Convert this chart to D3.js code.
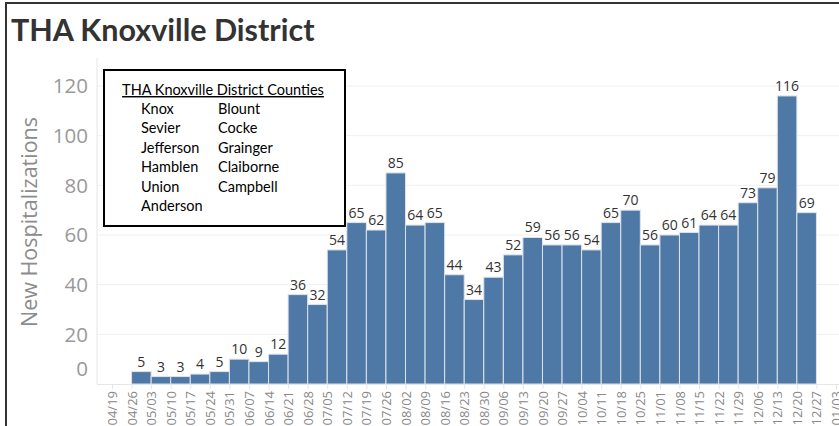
<!DOCTYPE html>
<html>
<head>
<meta charset="utf-8">
<script src="https://cdn.jsdelivr.net/npm/d3@7"></script>
<style>
  body { margin: 0; background: #fff; }
  svg { display: block; }
</style>
</head>
<body>
<svg id="chart"></svg>
<script>
// weekly new hospitalizations, week starting on the date
const weekStarts = ['04/26','05/03','05/10','05/17','05/24','05/31','06/07','06/14','06/21','06/28',
  '07/05','07/12','07/19','07/26','08/02','08/09','08/16','08/23','08/30','09/06','09/13','09/20',
  '09/27','10/04','10/11','10/18','10/25','11/01','11/08','11/15','11/22','11/29','12/06','12/13','12/20'];
const hospitalizations = [5,3,3,4,5,10,9,12,36,32,54,65,62,85,64,65,44,34,43,52,59,56,56,54,65,70,
  56,60,61,64,64,73,79,116,69];
const yTicks = [0,20,40,60,80,100,120];
const countiesLeft = ['Knox','Sevier','Jefferson','Hamblen','Union','Anderson'];
const countiesRight = ['Blount','Cocke','Grainger','Claiborne','Campbell'];

const width = 839, height = 426;
const parseDate = s => {
  const [m, d] = s.split('/').map(Number);
  return new Date(Date.UTC(m < 4 ? 2021 : 2020, m - 1, d));
};
const data = weekStarts.map((s, i) => ({start: parseDate(s), value: hospitalizations[i]}));

const svg = d3.select('#chart').attr('width', width).attr('height', height);

// outer frame
svg.append('path')
  .attr('d', `M6,${height + 5} V3 H${width + 5}`)
  .attr('fill', 'none').attr('stroke', '#333').attr('stroke-width', 2);

svg.append('text')
  .attr('x', 11).attr('y', 41)
  .attr('font-family', 'Lato, sans-serif')
  .attr('font-weight', 'bold')
  .attr('font-size', 30.5)
  .attr('fill', '#333')
  .text('THA Knoxville District');

const x = d3.scaleUtc()
  .domain([new Date(Date.UTC(2020, 3, 19)), new Date(Date.UTC(2021, 0, 3))])
  .range([112, 836]);
const y = d3.scaleLinear().domain([0, 120]).range([384, 86]);

const plotLeft = 97;

// gridlines
svg.append('g')
  .selectAll('line')
  .data(yTicks.filter(d => d > 0))
  .join('line')
  .attr('x1', plotLeft).attr('x2', width)
  .attr('y1', d => y(d)).attr('y2', d => y(d))
  .attr('stroke', '#f0f0f0');

// y axis line
svg.append('line')
  .attr('x1', plotLeft).attr('x2', plotLeft)
  .attr('y1', 58).attr('y2', y(0))
  .attr('stroke', '#e6e6e6');

// y tick labels (0 pushed up like the original)
svg.append('g')
  .selectAll('text')
  .data(yTicks)
  .join('text')
  .attr('x', 88)
  .attr('y', d => d === 0 ? y(0) - 15 : y(d))
  .attr('dy', '0.36em')
  .attr('text-anchor', 'end')
  .attr('font-family', 'Open Sans, sans-serif')
  .attr('font-size', 20.5)
  .attr('fill', '#999')
  .text(d => d);

svg.append('text')
  .attr('transform', `translate(37,222) rotate(-90)`)
  .attr('text-anchor', 'middle')
  .attr('font-family', 'Open Sans, sans-serif')
  .attr('font-size', 21.5)
  .attr('fill', '#8c8c8c')
  .text('New Hospitalizations');

// bars
const week = d => d3.utcDay.offset(d, 7);
svg.append('g')
  .selectAll('rect')
  .data(data)
  .join('rect')
  .attr('x', d => x(d.start))
  .attr('width', d => x(week(d.start)) - x(d.start))
  .attr('y', d => y(d.value))
  .attr('height', d => y(0) - y(d.value))
  .attr('fill', '#4e79a7')
  .attr('stroke', '#dfe3e8')
  .attr('stroke-width', 1);

// bar labels
svg.append('g')
  .selectAll('text')
  .data(data)
  .join('text')
  .attr('x', d => (x(d.start) + x(week(d.start))) / 2)
  .attr('y', d => y(d.value) - 5)
  .attr('text-anchor', 'middle')
  .attr('font-family', 'Open Sans, sans-serif')
  .attr('font-size', 14)
  .attr('fill', '#333')
  .text(d => d.value);

// x axis
const xAxis = d3.axisBottom(x)
  .ticks(d3.utcWeek.every(1))
  .tickFormat(d3.utcFormat('%m/%d'))
  .tickSize(5)
  .tickSizeOuter(0);
const gx = svg.append('g')
  .attr('transform', `translate(0,${y(0)})`)
  .call(xAxis);
gx.select('.domain').attr('d', `M${plotLeft},0.5H${width}`).attr('stroke', '#e6e6e6');
gx.selectAll('.tick line').attr('stroke', '#e6e6e6');
gx.selectAll('.tick text')
  .attr('transform', 'rotate(-90)')
  .attr('text-anchor', 'end')
  .attr('x', -7).attr('y', 0).attr('dy', '0.35em')
  .attr('font-family', 'Open Sans, sans-serif')
  .attr('font-size', 13)
  .attr('fill', '#888');

// county legend box
const legend = svg.append('g').attr('transform', 'translate(104,70)');
legend.append('rect')
  .attr('width', 241).attr('height', 156)
  .attr('fill', '#fff').attr('stroke', '#000').attr('stroke-width', 2);
legend.append('text')
  .attr('x', 119).attr('y', 25)
  .attr('text-anchor', 'middle')
  .attr('font-family', 'Lato, sans-serif')
  .attr('font-size', 14.5)
  .attr('text-decoration', 'underline')
  .attr('fill', '#000')
  .text('THA Knoxville District Counties');
const rowY = i => 44 + i * 19.4;
legend.selectAll('.left')
  .data(countiesLeft)
  .join('text')
  .attr('class', 'left')
  .attr('x', 37).attr('y', (d, i) => rowY(i))
  .attr('font-family', 'Lato, sans-serif')
  .attr('font-size', 14.5)
  .attr('fill', '#000')
  .text(d => d);
legend.selectAll('.right')
  .data(countiesRight)
  .join('text')
  .attr('class', 'right')
  .attr('x', 114).attr('y', (d, i) => rowY(i))
  .attr('font-family', 'Lato, sans-serif')
  .attr('font-size', 14.5)
  .attr('fill', '#000')
  .text(d => d);
</script>
</body>
</html>
